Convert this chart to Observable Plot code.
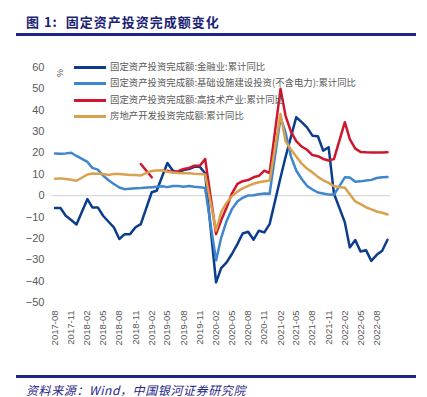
<!DOCTYPE html>
<html>
<head>
<meta charset="utf-8">
<script src="https://cdn.jsdelivr.net/npm/d3@7"></script>
<script src="https://cdn.jsdelivr.net/npm/@observablehq/plot@0.6"></script>
<style>
  body { margin: 0; background: #fff; }
  #wrap { position: relative; width: 427px; height: 397px; overflow: hidden; font-family: "Noto Sans CJK SC", sans-serif; }
  #title { position: absolute; left: 26px; top: 13px; font-size: 13px; font-weight: bold; color: #1c1f74; line-height: 18px; white-space: nowrap; letter-spacing: 1px; }
  .rule { position: absolute; left: 16px; width: 400px; height: 3px; background: #1f2587; }
  #chart { position: absolute; left: 0; top: 40px; }
  #legend { position: absolute; left: 74px; top: 58px; }
  .item { position: absolute; left: 0; height: 16px; white-space: nowrap; }
  .sw { position: absolute; left: 0; top: 8px; width: 32px; height: 3px; }
  .lt { position: absolute; left: 36px; top: 0; font-size: 9.4px; line-height: 16px; color: #595959; }
  #pct { position: absolute; left: 56px; top: 68px; font-size: 9px; color: #595959; transform: rotate(90deg); font-family: "Liberation Sans", Arial, sans-serif; }
  #source { position: absolute; left: 26px; top: 382px; font-size: 12px; font-style: italic; color: #1f2587; line-height: 16px; white-space: nowrap; letter-spacing: 0.6px; }
</style>
</head>
<body>
<div id="wrap">
  <div id="title">图 1:&nbsp;&nbsp;固定资产投资完成额变化</div>
  <div class="rule" style="top:33px"></div>
  <div id="chart"></div>
  <div id="legend"></div>
  <div id="pct">%</div>
  <div class="rule" style="top:375px"></div>
  <div id="source">资料来源：Wind，中国银河证券研究院</div>
</div>
<script>
// Months (January figures are not published; Jan–Feb combined)
const months = [
  "2017-08","2017-09","2017-10","2017-11","2017-12",
  "2018-02","2018-03","2018-04","2018-05","2018-06","2018-07","2018-08","2018-09","2018-10","2018-11","2018-12",
  "2019-02","2019-03","2019-04","2019-05","2019-06","2019-07","2019-08","2019-09","2019-10","2019-11","2019-12",
  "2020-02","2020-03","2020-04","2020-05","2020-06","2020-07","2020-08","2020-09","2020-10","2020-11","2020-12",
  "2021-02","2021-03","2021-04","2021-05","2021-06","2021-07","2021-08","2021-09","2021-10","2021-11","2021-12",
  "2022-02","2022-03","2022-04","2022-05","2022-06","2022-07","2022-08","2022-09","2022-10"
];

const seriesNames = [
  "固定资产投资完成额:金融业:累计同比",
  "固定资产投资完成额:基础设施建设投资(不含电力):累计同比",
  "固定资产投资完成额:高技术产业:累计同比",
  "房地产开发投资完成额:累计同比"
];
const seriesColors = ["#0b3d8c", "#3f86cf", "#d0162c", "#d9a14e"];

const finance = [
  -5.8, -5.8, -9.4, -11.4, -13.5,
  -1.6, -5.5, -5.5, -9.4, -12.2, -14.8, -20.3, -18.0, -18.0, -14.8, -13.3,
  1.6, 2.3, 9.0, 15.3, 11.7, 11.0, 12.0, 12.5, 13.5, 13.5, 10.5,
  -40.6, -33.9, -31.2, -27.3, -22.7, -17.7, -16.9, -20.6, -16.4, -17.2, -13.3,
  8.5, 18.0, 27.5, 36.7, 34.4, 32.0, 28.1, 27.8, 21.1, 22.7, 1.0,
  -12.5, -24.2, -20.8, -26.1, -25.5, -30.5, -27.7, -25.8, -20.6
];
const infra = [
  19.8, 19.6, 19.8, 20.1, 18.6,
  15.8, 13.0, 12.2, 9.4, 7.2, 5.5, 3.8, 3.0, 3.3, 3.5, 3.6,
  4.0, 4.2, 4.4, 4.0, 4.5, 4.5, 4.2, 4.5, 4.2, 4.0, 3.6,
  -30.3, -19.7, -11.8, -6.3, -2.7, -1.0, 0.1, 0.2, 0.7, 1.0, 0.9,
  36.6, 29.7, 18.4, 11.8, 7.8, 4.6, 2.9, 1.5, 1.0, 0.5, 0.4,
  8.6, 8.5, 6.5, 6.7, 7.1, 7.4, 8.3, 8.6, 8.7
];
const hightech = [
  null, null, null, null, null,
  null, null, null, null, null, null, null, null, null, null, 14.8,
  8.6, null, null, 11.7, 11.0, 11.5, 12.5, 13.0, 14.0, 14.0, 17.2,
  -18.0, -11.5, -5.5, 1.0, 5.5, 6.8, 7.3, 8.6, 9.3, 11.7, 10.6,
  50.0, 37.5, 30.0, 25.5, 23.0, 21.5, 19.0, 18.5, 17.2, 16.5, 17.1,
  34.4, 26.5, 22.0, 20.5, 20.3, 20.2, 20.2, 20.2, 20.3
];
const realestate = [
  7.9, 8.1, 7.8, 7.5, 7.0,
  9.9, 10.4, 10.3, 10.2, 9.7, 10.2, 10.1, 9.9, 9.7, 9.7, 9.5,
  11.6, 11.8, 11.9, 11.2, 10.9, 10.6, 10.5, 10.5, 10.3, 10.2, 9.9,
  -16.3, -7.7, -3.3, -0.3, 1.9, 3.4, 4.6, 5.6, 6.3, 6.8, 7.0,
  38.3, 25.6, 21.6, 18.3, 15.0, 12.7, 10.9, 8.8, 7.2, 6.0, 4.4,
  3.7, 0.7, -2.7, -4.0, -5.4, -6.4, -7.4, -8.0, -8.8
];

const tickLabels = [
  "2017-08","2017-11","2018-02","2018-05","2018-08","2018-11","2019-02","2019-05","2019-08","2019-11",
  "2020-02","2020-05","2020-08","2020-11","2021-02","2021-05","2021-08","2021-11","2022-02","2022-05","2022-08"
];
const yTicks = [60, 50, 40, 30, 20, 10, 0, -10, -20, -30, -40, -50];

const parse = s => new Date(s + "-01T00:00:00Z");
const allValues = [finance, infra, hightech, realestate];
const data = [];
allValues.forEach((vals, si) => {
  months.forEach((m, k) => data.push({date: parse(m), v: vals[k], series: seriesNames[si]}));
});

const chart = Plot.plot({
  width: 427,
  height: 310,
  marginLeft: 52,
  marginRight: 37,
  marginTop: 27,
  marginBottom: 48,
  style: {fontFamily: "'Liberation Sans', Arial, sans-serif", fontSize: "11px", color: "#595959", background: "transparent"},
  x: {type: "utc", domain: [parse("2017-08"), parse("2022-10")], insetLeft: 2.5, insetRight: 3},
  y: {domain: [-50, 60]},
  color: {domain: seriesNames, range: seriesColors},
  marks: [
    Plot.ruleY([0], {stroke: "#d9d9d9", strokeWidth: 1.2}),
    Plot.axisY({ticks: yTicks, tickSize: 0, tickPadding: 8, label: null, fill: "#595959", fontSize: 11}),
    Plot.axisX({ticks: [], label: null, tickSize: 0}),
    Plot.text(tickLabels, {x: d => parse(d), y: -50, dy: 8, text: d => d, rotate: -90, textAnchor: "end", fill: "#595959", fontSize: 9.5}),
    Plot.line(data, {x: "date", y: "v", z: "series", stroke: "series", strokeWidth: 2.5, curve: "linear"})
  ]
});
document.getElementById("chart").appendChild(chart);

const legend = document.getElementById("legend");
seriesNames.forEach((name, i) => {
  const item = document.createElement("div");
  item.className = "item";
  item.style.top = (i * 16.3) + "px";
  item.innerHTML = `<div class="sw" style="background:${seriesColors[i]}"></div><div class="lt">${name}</div>`;
  legend.appendChild(item);
});
</script>
</body>
</html>
